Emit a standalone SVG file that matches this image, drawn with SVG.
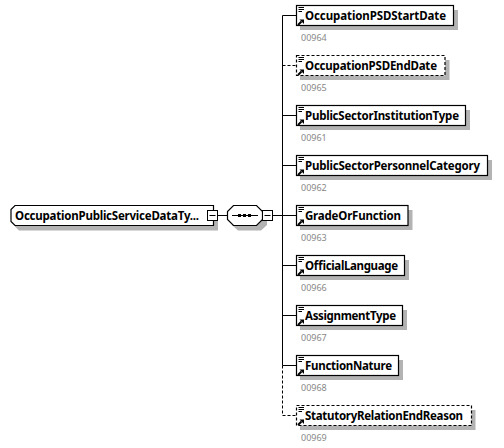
<svg xmlns="http://www.w3.org/2000/svg" width="504" height="448" viewBox="0 0 504 448">
<defs>
<g id="ico"><path d="M1.500 1.500H7M1.500 3.500H7M1.500 5.500H5" class="w"/><path d="M1 19L4.500 15.500" class="ar"/><path d="M2.500 13.500H7V18Z" fill="#000"/></g>
</defs>
<style>
text{font-family:"Noto Sans","Open Sans","Liberation Sans",sans-serif}
.n{font-size:11.5px;font-weight:700;fill:#000}
.c{font-size:9px;fill:#888}
.s{fill:#b3b3b3;stroke:none}
.b{fill:#fff;stroke:#000;stroke-width:1.200}
.d{fill:#fff;stroke:#000;stroke-width:1.200;stroke-dasharray:3 2}
.l{fill:none;stroke:#000;stroke-width:1}
.dl{fill:none;stroke:#000;stroke-width:1;stroke-dasharray:3 2}
.w{fill:none;stroke:#000;stroke-width:1}
.ar{fill:none;stroke:#000;stroke-width:2}
</style>
<g id="connectors">
<path class="l" d="M282.500 15.500V365.500M282.500 15.500H296M282.500 115.500H296M282.500 165.500H296M282.500 215.500H296M282.500 265.500H296M282.500 315.500H296M282.500 365.500H296M272 215.500H282.500M218 215.500H227"/>
<path class="dl" d="M282.500 65.500H296M282.500 365.500V415.500H296"/>
</g>
<g id="root">
<path class="s" d="M19 210H218V230.500H19L15 226.500V214Z"/>
<path class="b" d="M15 205.500H213.500V225.500H15L11 221.500V209.500Z"/>
<text class="n" x="15" y="220" textLength="184">OccupationPublicServiceDataTy...</text>
<rect x="207.500" y="210.500" width="10" height="10" fill="#fff" stroke="#000"/><path class="l" d="M209.500 215.500H215.500"/>
</g>
<g id="seq">
<path class="s" d="M238 210H261L267 216V225L261 230.500H238L232 225V216Z"/>
<path class="b" d="M233.500 205.500H256.500L262.500 211.500V219.500L256.500 225.500H233.500L227.500 219.500V211.500Z"/>
<path class="l" d="M232 215.500H258"/><rect x="238" y="214" width="3" height="3"/><rect x="243" y="214" width="3" height="3"/><rect x="248" y="214" width="3" height="3"/>
<rect x="262.500" y="210.500" width="10" height="10" fill="#fff" stroke="#000"/><path class="l" d="M264.500 215.500H270.500"/>
</g>
<g id="n1"><rect class="s" x="300" y="10" width="158" height="20"/><rect class="b" x="296.500" y="5.500" width="157" height="20"/><use href="#ico" x="297" y="6"/><text class="n" x="305" y="20" textLength="141">OccupationPSDStartDate</text><text class="c" x="301" y="41">00964</text></g>
<g id="n2"><rect class="s" x="300" y="60" width="149.500" height="20"/><rect class="d" x="296.500" y="55.500" width="148.500" height="20"/><use href="#ico" x="297" y="56"/><text class="n" x="305" y="70" textLength="132">OccupationPSDEndDate</text><text class="c" x="301" y="91">00965</text></g>
<g id="n3"><rect class="s" x="300" y="110" width="170" height="20"/><rect class="b" x="296.500" y="105.500" width="169" height="20"/><use href="#ico" x="297" y="106"/><text class="n" x="305" y="120" textLength="154">PublicSectorInstitutionType</text><text class="c" x="301" y="141">00961</text></g>
<g id="n4"><rect class="s" x="300" y="160" width="192" height="20"/><rect class="b" x="296.500" y="155.500" width="191" height="20"/><use href="#ico" x="297" y="156"/><text class="n" x="305" y="170" textLength="175">PublicSectorPersonnelCategory</text><text class="c" x="301" y="191">00962</text></g>
<g id="n5"><rect class="s" x="300" y="210" width="112.500" height="20"/><rect class="b" x="296.500" y="205.500" width="111.500" height="20"/><use href="#ico" x="297" y="206"/><text class="n" x="305" y="220" textLength="96">GradeOrFunction</text><text class="c" x="301" y="241">00963</text></g>
<g id="n6"><rect class="s" x="300" y="260" width="109" height="20"/><rect class="b" x="296.500" y="255.500" width="108" height="20"/><use href="#ico" x="297" y="256"/><text class="n" x="305" y="270" textLength="93">OfficialLanguage</text><text class="c" x="301" y="291">00966</text></g>
<g id="n7"><rect class="s" x="300" y="310" width="107" height="20"/><rect class="b" x="296.500" y="305.500" width="106" height="20"/><use href="#ico" x="297" y="306"/><text class="n" x="305" y="320" textLength="91">AssignmentType</text><text class="c" x="301" y="341">00967</text></g>
<g id="n8"><rect class="s" x="300" y="360" width="103" height="20"/><rect class="b" x="296.500" y="355.500" width="102" height="20"/><use href="#ico" x="297" y="356"/><text class="n" x="305" y="370" textLength="87">FunctionNature</text><text class="c" x="301" y="391">00968</text></g>
<g id="n9"><rect class="s" x="300" y="410" width="175.500" height="20"/><rect class="d" x="296.500" y="405.500" width="175" height="20"/><use href="#ico" x="297" y="406"/><text class="n" x="305" y="420" textLength="158">StatutoryRelationEndReason</text><text class="c" x="301" y="441">00969</text></g>
</svg>
